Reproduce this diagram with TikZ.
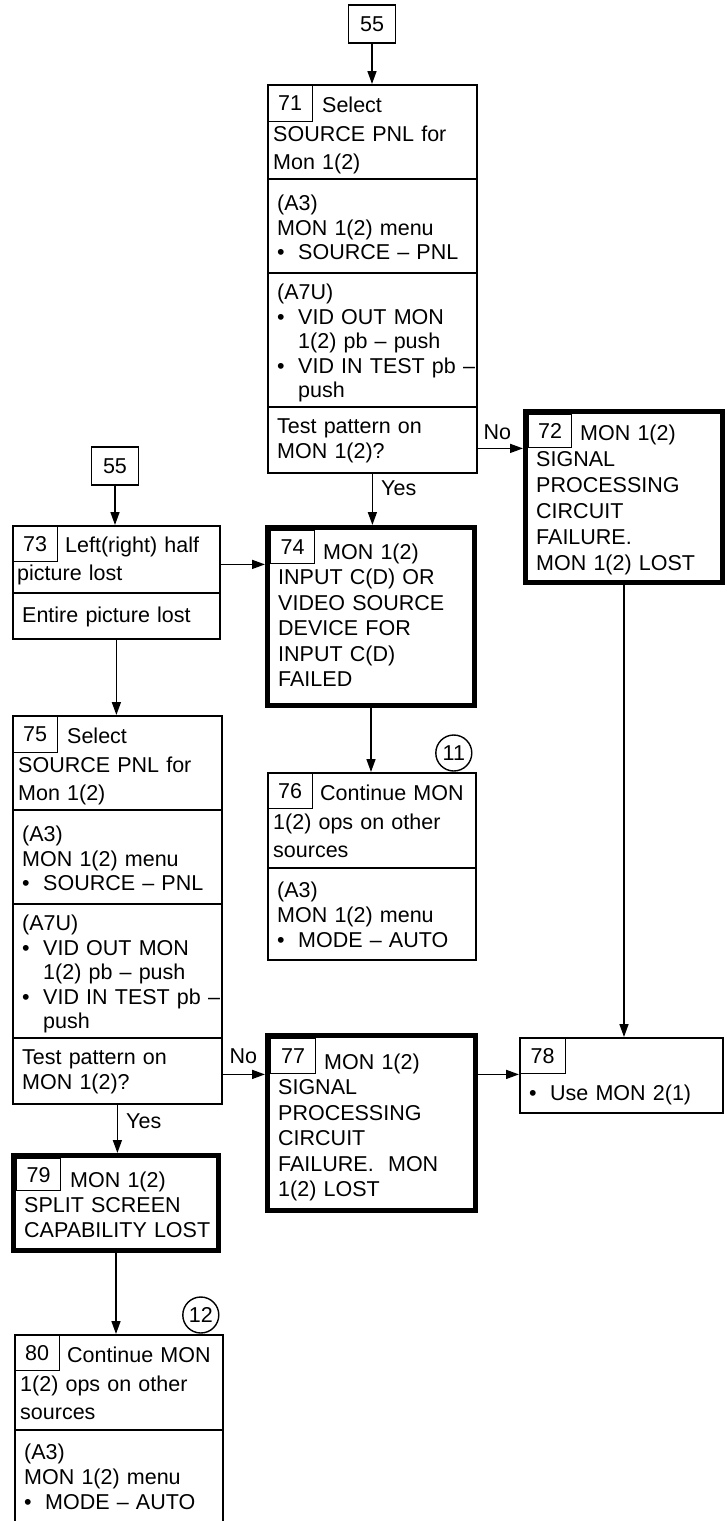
\documentclass[tikz,border=0pt]{standalone}
\usepackage{fontspec}
\setmainfont{Liberation Sans}
\usetikzlibrary{arrows.meta,positioning}

\tikzset{
  flowbox/.style={draw,line width=1.8pt,inner sep=0pt,anchor=north west},
  failbox/.style={draw,line width=5pt,inner sep=0pt,anchor=north west},
  numbox/.style={draw,line width=1.4pt,inner sep=0pt,anchor=north west},
  refbox/.style={draw,line width=1.8pt,inner sep=0pt,minimum width=47pt,minimum height=38pt},
  divider/.style={line width=1.8pt},
  body/.style={anchor=base west,inner sep=0pt,align=left,text width=200pt},
  head/.style={body,font=\fontsize{21.5}{28.5}\selectfont},
  tagcircle/.style={draw,circle,line width=1.4pt,inner sep=0pt,minimum size=36pt},
  flow/.style={line width=1.6pt,-{Triangle[length=13pt,width=9pt]}},
  lbl/.style={inner sep=0pt}
}

\newcommand{\bulitem}{\makebox[21pt][l]{\textbullet}}
\newcommand{\bulind}{\hspace*{21pt}}

\newcommand{\selectbox}[3]{%
  \node[flowbox,minimum width=209pt,minimum height=388pt] (b#1) at (#2,#3) {};
  \node[numbox,minimum width=45pt,minimum height=37pt] (n#1) at (b#1.north west) {#1};
  \node[head] (h#1) at ([xshift=6pt,yshift=-28.5pt]b#1.north west) {\hspace*{49pt}Select\\SOURCE PNL for\\Mon 1(2)};
  \draw[divider] ([yshift=-95pt]b#1.north west) -- ([yshift=-95pt]b#1.north east);
  \node[body] (a#1) at ([xshift=10pt,yshift=-126.5pt]b#1.north west) {(A3)\\MON 1(2) menu\\\bulitem SOURCE – PNL};
  \draw[divider] ([yshift=-189pt]b#1.north west) -- ([yshift=-189pt]b#1.north east);
  \node[body] (p#1) at ([xshift=10pt,yshift=-215.5pt]b#1.north west) {(A7U)\\\bulitem VID OUT MON\\\bulind 1(2) pb – push\\\bulitem VID IN TEST pb –\\\bulind push};
  \draw[divider] ([yshift=-323pt]b#1.north west) -- ([yshift=-323pt]b#1.north east);
  \node[body,font=\fontsize{21.5}{25}\selectfont] (q#1) at ([xshift=10pt,yshift=-349.5pt]b#1.north west) {Test pattern on\\MON 1(2)?};
}

\newcommand{\contbox}[5]{%
  \node[flowbox,minimum width=208pt,minimum height=#5pt] (b#1) at (#3,#4) {};
  \node[numbox,minimum width=45pt,minimum height=36pt] (n#1) at (b#1.north west) {#1};
  \node[head] (h#1) at ([xshift=6pt,yshift=-28.5pt]b#1.north west) {\hspace*{47pt}Continue MON\\1(2) ops on other\\sources};
  \draw[divider] ([yshift=-96pt]b#1.north west) -- ([yshift=-96pt]b#1.north east);
  \node[body,font=\fontsize{21.5}{25}\selectfont] (a#1) at ([xshift=10pt,yshift=-125.5pt]b#1.north west) {(A3)\\MON 1(2) menu\\\bulitem MODE – AUTO};
  \node[tagcircle] (c#1) at ([xshift=-23pt,yshift=19pt]b#1.north east) {#2};
}

\begin{document}
\begin{tikzpicture}[x=1pt,y=-1pt,font=\fontsize{21.5}{24.5}\selectfont]
\useasboundingbox (0,0) rectangle (726,1521);

\node[refbox] (top55) at (372,24) {55};
\selectbox{71}{267}{84}

\node[failbox,minimum width=197pt,minimum height=171pt] (b72) at (523,409) {};
\node[numbox,minimum width=43pt,minimum height=33pt] (n72) at ([xshift=5pt,yshift=-5pt]b72.north west) {72};
\node[body,font=\fontsize{21.5}{26}\selectfont] (h72) at ([xshift=13pt,yshift=-31.5pt]b72.north west) {\hspace*{44pt}MON 1(2)\\SIGNAL\\PROCESSING\\CIRCUIT\\FAILURE.\\MON 1(2) LOST};

\node[refbox] (left55) at (115,466) {55};
\node[flowbox,minimum width=207pt,minimum height=113pt] (b73) at (12,525) {};
\node[numbox,minimum width=45pt,minimum height=36pt] (n73) at (b73.north west) {73};
\node[head,font=\fontsize{21.5}{28}\selectfont] (h73) at ([xshift=5pt,yshift=-27.5pt]b73.north west) {\hspace*{48pt}Left(right) half\\picture lost};
\draw[divider] ([yshift=-68pt]b73.north west) -- ([yshift=-68pt]b73.north east);
\node[body] (s73) at ([xshift=10pt,yshift=-97.5pt]b73.north west) {Entire picture lost};

\node[failbox,minimum width=207pt,minimum height=178pt] (b74) at (265,525) {};
\node[numbox,minimum width=44pt,minimum height=33pt] (n74) at ([xshift=5pt,yshift=-5pt]b74.north west) {74};
\node[body,font=\fontsize{21.5}{25.4}\selectfont] (h74) at ([xshift=13pt,yshift=-34.5pt]b74.north west) {\hspace*{45pt}MON 1(2)\\INPUT C(D) OR\\VIDEO SOURCE\\DEVICE FOR\\INPUT C(D)\\FAILED};

\selectbox{75}{12}{715}
\contbox{76}{11}{267}{772}{187}

\node[failbox,minimum width=208pt,minimum height=175pt] (b77) at (265,1033) {};
\node[numbox,minimum width=45pt,minimum height=35pt] (n77) at ([xshift=5pt,yshift=-5pt]b77.north west) {77};
\node[body,font=\fontsize{21.5}{25.4}\selectfont] (h77) at ([xshift=13pt,yshift=-36.5pt]b77.north west) {\hspace*{46pt}MON 1(2)\\SIGNAL\\PROCESSING\\CIRCUIT\\FAILURE.\ \ MON\\1(2) LOST};

\node[flowbox,minimum width=203pt,minimum height=75pt] (b78) at (519,1037) {};
\node[numbox,minimum width=46pt,minimum height=36pt] (n78) at (b78.north west) {78};
\node[body] (s78) at ([xshift=10pt,yshift=-63.5pt]b78.north west) {\bulitem Use MON 2(1)};

\node[failbox,minimum width=205pt,minimum height=95pt] (b79) at (11,1153) {};
\node[numbox,minimum width=44pt,minimum height=32pt] (n79) at ([xshift=5pt,yshift=-5pt]b79.north west) {79};
\node[body,font=\fontsize{21.5}{25}\selectfont] (h79) at ([xshift=13pt,yshift=-34.5pt]b79.north west) {\hspace*{46pt}MON 1(2)\\SPLIT SCREEN\\CAPABILITY LOST};

\contbox{80}{12}{14}{1334}{190}

\draw[flow] (top55.south) -- (top55.south |- b71.north);
\draw[flow] (b71.east |- n72.south) -- node[lbl,pos=0,anchor=base west,xshift=5pt,yshift=9pt] (no71) {No} (b72.west |- n72.south);
\draw[flow] (b71.south) -- node[lbl,pos=0,anchor=base west,xshift=8pt,yshift=-22pt] (yes71) {Yes} (b71.south |- b74.north);
\draw[flow] (left55.south) -- (left55.south |- b73.north);
\draw[flow] (b73.east |- n74.south) -- (b74.west |- n74.south);
\draw[flow] (b73.south) -- (b73.south |- b75.north);
\draw[flow] (b74.south) -- (b74.south |- b76.north);
\draw[flow] (b72.south) -- (b72.south |- b78.north);
\draw[flow] (b75.east |- n77.south) -- node[lbl,pos=0,anchor=base west,xshift=6pt,yshift=11pt] (no75) {No} (b77.west |- n77.south);
\draw[flow] (b77.east |- n78.south) -- (b78.west |- n78.south);
\draw[flow] (b75.south) -- node[lbl,pos=0,anchor=base west,xshift=8pt,yshift=-24pt] (yes75) {Yes} (b75.south |- b79.north);
\draw[flow] (b79.south) -- (b79.south |- b80.north);
\end{tikzpicture}
\end{document}
